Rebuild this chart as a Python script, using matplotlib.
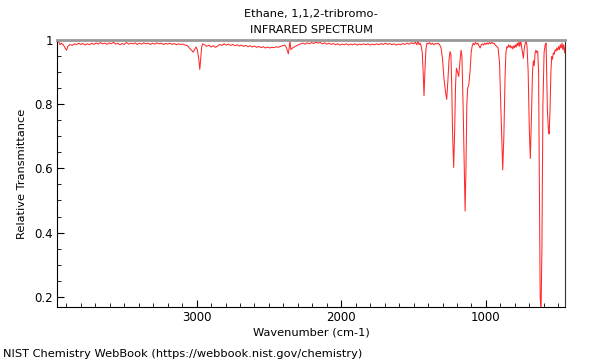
import matplotlib
matplotlib.use("Agg")
import matplotlib.pyplot as plt
from matplotlib.ticker import MultipleLocator, FormatStrFormatter

title = "Ethane, 1,1,2-tribromo-\nINFRARED SPECTRUM"
footer = "NIST Chemistry WebBook (https://webbook.nist.gov/chemistry)"

# wavenumber (cm-1) and transmittance
wavenumber = [
    3965, 3955, 3945, 3935, 3920, 3905, 3899, 3890, 3875, 3860, 3845, 3830, 3815, 3800,
    3785, 3770, 3755, 3740, 3725, 3710, 3695, 3680, 3665, 3650, 3635, 3620, 3605, 3590,
    3575, 3560, 3545, 3530, 3515, 3500, 3485, 3470, 3455, 3440, 3425, 3410, 3395, 3380,
    3365, 3350, 3335, 3320, 3305, 3290, 3275, 3260, 3245, 3230, 3215, 3200, 3185, 3170,
    3155, 3140, 3125, 3110, 3095, 3080, 3065, 3050, 3035, 3023, 3012, 3004, 2995, 2985,
    2978, 2972, 2965, 2958, 2945, 2930, 2915, 2900, 2885, 2870, 2855, 2840, 2825, 2810,
    2795, 2780, 2765, 2750, 2735, 2720, 2705, 2690, 2675, 2660, 2645, 2630, 2615, 2600,
    2585, 2570, 2555, 2540, 2525, 2510, 2495, 2480, 2465, 2450, 2435, 2420, 2405, 2390,
    2378, 2366, 2360, 2355, 2348, 2340, 2325, 2310, 2295, 2280, 2265, 2250, 2235, 2220,
    2205, 2190, 2175, 2160, 2145, 2130, 2115, 2100, 2085, 2070, 2055, 2040, 2025, 2010,
    1995, 1980, 1965, 1950, 1935, 1920, 1905, 1890, 1875, 1860, 1845, 1830, 1815, 1800,
    1785, 1770, 1755, 1740, 1725, 1710, 1695, 1680, 1665, 1650, 1635, 1620, 1605, 1590,
    1575, 1560, 1545, 1530, 1515, 1500, 1488, 1478, 1470, 1462, 1455, 1448, 1440, 1434,
    1428, 1422, 1415, 1408, 1400, 1390, 1380, 1370, 1360, 1350, 1340, 1330, 1320, 1310,
    1300, 1290, 1280, 1271, 1262, 1255, 1248, 1242, 1236, 1230, 1223, 1216, 1210, 1204,
    1196, 1188, 1180, 1172, 1166, 1158, 1150, 1144, 1138, 1132, 1126, 1118, 1110, 1102,
    1096, 1088, 1080, 1072, 1064, 1056, 1048, 1040, 1032, 1024, 1016, 1008, 1000, 992,
    984, 976, 968, 960, 952, 944, 936, 926, 916, 906, 896, 884, 876, 868,
    862, 856, 850, 844, 838, 832, 826, 820, 814, 808, 802, 796, 790, 784,
    778, 772, 766, 760, 752, 745, 741, 736, 728, 722, 716, 708, 700, 693,
    686, 678, 672, 666, 660, 654, 648, 642, 636, 630, 625, 619, 613, 606,
    598, 590, 584, 580, 575, 568, 563, 557, 551, 545, 540, 534, 528, 522,
    516, 510, 504, 498, 492, 486, 480, 474, 468, 462, 456, 452,
]
transmittance = [
    0.995, 0.998, 0.985, 0.990, 0.984, 0.972, 0.968, 0.980, 0.986, 0.983, 0.988, 0.985, 0.990, 0.986,
    0.989, 0.984, 0.988, 0.985, 0.990, 0.986, 0.991, 0.987, 0.992, 0.988, 0.990, 0.986, 0.991, 0.988,
    0.993, 0.987, 0.990, 0.985, 0.989, 0.986, 0.992, 0.987, 0.990, 0.988, 0.991, 0.986, 0.990, 0.987,
    0.991, 0.988, 0.990, 0.986, 0.990, 0.987, 0.991, 0.988, 0.990, 0.986, 0.989, 0.987, 0.990, 0.986,
    0.989, 0.985, 0.988, 0.986, 0.987, 0.984, 0.983, 0.975, 0.968, 0.962, 0.972, 0.978, 0.970, 0.940,
    0.908, 0.940, 0.978, 0.988, 0.985, 0.980, 0.984, 0.978, 0.982, 0.977, 0.981, 0.986, 0.983, 0.988,
    0.984, 0.987, 0.983, 0.986, 0.982, 0.985, 0.981, 0.984, 0.980, 0.983, 0.979, 0.982, 0.978, 0.981,
    0.977, 0.980, 0.976, 0.979, 0.975, 0.978, 0.975, 0.977, 0.976, 0.979, 0.977, 0.980, 0.982, 0.984,
    0.975, 0.957, 0.975, 0.997, 0.970, 0.974, 0.978, 0.982, 0.985, 0.988, 0.990, 0.987, 0.991, 0.988,
    0.992, 0.989, 0.993, 0.990, 0.992, 0.988, 0.991, 0.987, 0.990, 0.986, 0.989, 0.985, 0.988, 0.984,
    0.987, 0.985, 0.988, 0.984, 0.987, 0.985, 0.988, 0.984, 0.987, 0.985, 0.988, 0.985, 0.988, 0.984,
    0.987, 0.985, 0.988, 0.985, 0.989, 0.986, 0.990, 0.986, 0.989, 0.985, 0.988, 0.984, 0.987, 0.985,
    0.989, 0.986, 0.990, 0.987, 0.991, 0.988, 0.993, 0.985, 0.998, 0.985, 0.990, 0.982, 0.960, 0.900,
    0.826, 0.900, 0.970, 0.990, 0.988, 0.992, 0.986, 0.990, 0.985, 0.989, 0.988, 0.990, 0.985, 0.975,
    0.940, 0.880, 0.840, 0.815, 0.880, 0.940, 0.964, 0.955, 0.850, 0.700, 0.603, 0.720, 0.860, 0.912,
    0.900, 0.886, 0.930, 0.968, 0.950, 0.800, 0.600, 0.467, 0.600, 0.800, 0.850, 0.862, 0.900, 0.960,
    0.979, 0.990, 0.985, 0.992, 0.987, 0.990, 0.982, 0.975, 0.985, 0.988, 0.984, 0.990, 0.986, 0.991,
    0.987, 0.992, 0.988, 0.993, 0.989, 0.990, 0.985, 0.980, 0.975, 0.930, 0.780, 0.595, 0.700, 0.880,
    0.960, 0.979, 0.975, 0.985, 0.978, 0.983, 0.975, 0.980, 0.972, 0.982, 0.976, 0.985, 0.978, 0.990,
    0.982, 0.995, 0.980, 0.998, 0.975, 0.955, 0.943, 0.970, 0.990, 0.998, 0.980, 0.900, 0.720, 0.631,
    0.750, 0.900, 0.935, 0.920, 0.960, 0.968, 0.960, 0.965, 0.900, 0.500, 0.200, 0.150, 0.350, 0.800,
    0.960, 0.985, 0.990, 0.900, 0.780, 0.720, 0.707, 0.780, 0.900, 0.948, 0.940, 0.960, 0.955, 0.970,
    0.965, 0.975, 0.968, 0.980, 0.970, 0.985, 0.975, 0.990, 0.970, 0.985, 0.960, 0.975,
]

fig = plt.figure(figsize=(6, 3.6), dpi=100)
ax = fig.add_axes([0.095, 0.147, 0.847, 0.742])

ax.plot(wavenumber, transmittance, color="#ff2a2a", linewidth=0.75)

ax.set_xlim(3965, 452)
ax.set_ylim(0.168, 1.0)

ax.xaxis.set_major_locator(MultipleLocator(1000))
ax.xaxis.set_minor_locator(MultipleLocator(100))
ax.yaxis.set_major_locator(MultipleLocator(0.2))
ax.yaxis.set_minor_locator(MultipleLocator(0.05))
ax.yaxis.set_major_formatter(FormatStrFormatter("%g"))
ax.tick_params(which="both", direction="in", top=False, right=False, labelsize=8.5, pad=3)
ax.tick_params(which="major", length=5)
ax.tick_params(which="minor", length=3)

ax.spines["top"].set_color("#999999")
ax.spines["top"].set_linewidth(2)
ax.spines["right"].set_color("#333333")

ax.set_xlabel("Wavenumber (cm-1)", fontsize=8.2, labelpad=2)
ax.set_ylabel("Relative Transmittance", fontsize=8.2, labelpad=5)
ax.set_title(title, fontsize=8.2, pad=5, linespacing=1.7)

fig.text(0.005, 0.008, footer, fontsize=8.2)

fig.savefig("out.png", dpi=100)
